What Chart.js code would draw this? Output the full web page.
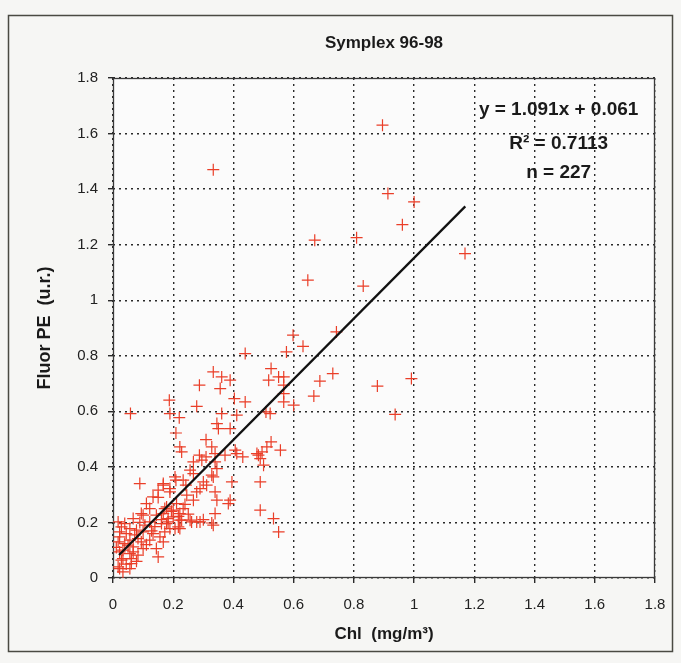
<!DOCTYPE html>
<html>
<head>
<meta charset="utf-8">
<script src="https://cdn.jsdelivr.net/npm/chart.js@4/dist/chart.umd.min.js"></script>
<style>
  html, body { margin: 0; padding: 0; background: #f6f6f4; }
  canvas { display: block; }
</style>
</head>
<body>
<canvas id="c" width="681" height="663"></canvas>
<script>
// ---------- data ----------
const chartTitle = 'Symplex 96-98';
const xAxisTitle = 'Chl  (mg/m³)';
const yAxisTitle = 'Fluor PE  (u.r.)';
const xTickLabels = ['0','0.2','0.4','0.6','0.8','1','1.2','1.4','1.6','1.8'];
const yTickLabels = ['0','0.2','0.4','0.6','0.8','1','1.2','1.4','1.6','1.8'];
const annotationLines = ['y = 1.091x + 0.061', 'R² = 0.7113', 'n = 227'];

// Chl (mg/m3) of each sample
const chlValues = [
 0.895,0.333,0.913,1.0,0.961,0.67,0.809,1.169,0.647,0.831,
 0.742,0.598,0.631,0.576,0.567,0.687,0.73,0.667,0.567,0.567,
 0.60,0.878,0.991,0.937,0.439,0.525,0.333,0.361,0.389,0.517,
 0.287,0.356,0.55,0.567,0.403,0.439,0.187,0.278,0.058,0.189,
 0.22,0.361,0.411,0.508,0.522,0.345,0.35,0.389,0.209,0.309,
 0.222,0.228,0.328,0.525,0.511,0.556,0.287,0.309,0.339,0.372,
 0.411,0.431,0.478,0.495,0.267,0.295,0.339,0.5,0.256,0.345,
 0.328,0.089,0.167,0.209,0.242,0.3,0.311,0.395,0.489,0.15,
 0.189,0.278,0.289,0.339,0.133,0.267,0.345,0.389,0.383,0.111,
 0.239,0.122,0.172,0.2,0.339,0.489,0.094,0.144,0.217,0.183,
 0.228,0.256,0.278,0.333,0.161,0.122,0.533,0.55,0.222,0.189,
 0.028,0.056,0.078,0.1,0.133,0.022,0.083,0.122,0.167,0.039,
 0.067,0.1,0.022,0.056,0.083,0.15,0.033,0.061,0.022,0.056,
 0.017,0.039,0.067,0.1,0.022,0.017,0.056,0.094,0.156,0.033,
 0.067,0.144,0.028,0.061,0.033,0.017,0.183,0.2,0.217,0.167,
 0.222,0.206,0.233,0.267,0.333,0.167,0.189,0.245,0.178,0.211,
 0.233,0.222,0.261,0.289,0.328,0.178,0.206,0.172,0.483,0.406,
 0.489,0.044,0.072,0.106,0.139,0.05,0.111,0.128,0.089,0.011,
 0.044,0.078,0.161,0.194,0.25,0.3,0.15
];
// Fluor PE (u.r.) of each sample
const peValues = [
 1.63,1.47,1.384,1.354,1.272,1.216,1.225,1.168,1.072,1.051,
 0.886,0.874,0.834,0.814,0.724,0.709,0.736,0.655,0.664,0.634,
 0.622,0.691,0.718,0.589,0.808,0.754,0.742,0.724,0.712,0.712,
 0.694,0.682,0.724,0.694,0.646,0.634,0.64,0.618,0.592,0.592,
 0.577,0.592,0.586,0.598,0.592,0.556,0.538,0.538,0.522,0.498,
 0.472,0.454,0.472,0.49,0.472,0.46,0.442,0.436,0.448,0.442,
 0.448,0.436,0.448,0.454,0.418,0.424,0.418,0.406,0.388,0.394,
 0.37,0.34,0.34,0.352,0.334,0.346,0.334,0.346,0.346,0.316,
 0.31,0.31,0.322,0.31,0.292,0.28,0.28,0.28,0.268,0.268,
 0.265,0.25,0.25,0.244,0.232,0.244,0.232,0.226,0.222,0.214,
 0.208,0.208,0.202,0.19,0.196,0.202,0.214,0.166,0.178,0.178,
 0.184,0.178,0.172,0.166,0.16,0.148,0.142,0.136,0.13,0.124,
 0.112,0.106,0.094,0.088,0.082,0.076,0.07,0.052,0.034,0.034,
 0.202,0.196,0.214,0.226,0.166,0.13,0.136,0.13,0.148,0.1,
 0.094,0.106,0.064,0.07,0.022,0.04,0.202,0.22,0.184,0.232,
 0.232,0.364,0.352,0.376,0.364,0.334,0.322,0.298,0.256,0.268,
 0.25,0.208,0.202,0.202,0.198,0.196,0.178,0.166,0.442,0.46,
 0.43,0.16,0.155,0.19,0.185,0.118,0.12,0.17,0.2,0.11,
 0.05,0.06,0.21,0.24,0.23,0.21,0.29
];
// regression line end points
const fitX = [0.02, 1.17];
const fitY = [0.083, 1.338];

// ---------- chart ----------
const FONT = "'Liberation Sans', Arial, sans-serif";
const points = chlValues.map((x, i) => ({ x: x, y: peValues[i] }));
const fitLine = fitX.map((x, i) => ({ x: x, y: fitY[i] }));

const framePlugin = {
  id: 'frame',
  beforeDraw(chart) {
    const ctx = chart.ctx;
    const a = chart.chartArea;
    ctx.save();
    ctx.fillStyle = '#f6f6f4';
    ctx.fillRect(0, 0, chart.width, chart.height);
    ctx.fillStyle = '#fbfbfb';
    ctx.fillRect(a.left, a.top, a.right - a.left, a.bottom - a.top);
    ctx.strokeStyle = '#4a4a42';
    ctx.lineWidth = 1.5;
    ctx.strokeRect(8.5, 15.5, 664, 636);
    ctx.restore();
  },
  beforeDatasetsDraw(chart) {
    const ctx = chart.ctx;
    const a = chart.chartArea;
    ctx.save();
    ctx.strokeStyle = '#3a3a3a';
    ctx.lineWidth = 1.3;
    ctx.strokeRect(a.left + 0.5, a.top + 0.5, a.right - a.left - 1, a.bottom - a.top - 1);
    ctx.restore();
  },
  afterDraw(chart) {
    const ctx = chart.ctx;
    const xs = chart.scales.x, ys = chart.scales.y;
    const cx = xs.getPixelForValue(1.48);
    const rows = [1.684, 1.565, 1.46];
    ctx.save();
    ctx.fillStyle = '#1a1a1a';
    ctx.font = 'bold 19px ' + FONT;
    ctx.textAlign = 'center';
    ctx.textBaseline = 'middle';
    annotationLines.forEach((t, i) => {
      ctx.fillText(t, cx, ys.getPixelForValue(rows[i]));
    });
    ctx.restore();
  }
};

new Chart(document.getElementById('c'), {
  type: 'scatter',
  data: {
    datasets: [
      {
        type: 'line',
        data: fitLine,
        borderColor: '#111111',
        borderWidth: 2.3,
        pointRadius: 0,
        fill: false,
        order: 0
      },
      {
        data: points,
        pointStyle: 'cross',
        pointRadius: 6,
        pointBorderWidth: 1.2,
        borderColor: 'rgb(234,62,40)',
        backgroundColor: 'rgb(234,62,40)',
        order: 1
      }
    ]
  },
  plugins: [framePlugin],
  options: {
    responsive: false,
    animation: false,
    layout: { padding: { left: 8, right: 26, top: 15, bottom: 8 } },
    plugins: {
      legend: { display: false },
      tooltip: { enabled: false },
      title: {
        display: true,
        text: chartTitle,
        fullSize: false,
        color: '#1a1a1a',
        font: { family: FONT, size: 17, weight: 'bold' },
        padding: { top: 18, bottom: 24.6 }
      }
    },
    scales: {
      x: {
        type: 'linear',
        min: 0, max: 1.8,
        afterFit(s) { s.height = 77; },
        afterBuildTicks(s) { s.ticks = xTickLabels.map(v => ({ value: parseFloat(v) })); },
        ticks: {
          stepSize: 0.2,
          padding: 13,
          maxRotation: 0,
          autoSkip: false,
          color: '#222',
          font: { family: FONT, size: 15 },
          callback: (v, i) => xTickLabels[i]
        },
        grid: { color: '#2a2a2a', lineWidth: 1.4, drawTicks: true, tickLength: 5 },
        border: { display: false, dash: [2, 4] },
        title: {
          display: true,
          text: xAxisTitle,
          color: '#1a1a1a',
          font: { family: FONT, size: 17, weight: 'bold' },
          padding: { top: 0, bottom: 10 }
        }
      },
      y: {
        type: 'linear',
        min: 0, max: 1.8,
        afterFit(s) { s.width = 105; },
        afterBuildTicks(s) { s.ticks = yTickLabels.map(v => ({ value: parseFloat(v) })); },
        ticks: {
          stepSize: 0.2,
          padding: 10,
          autoSkip: false,
          color: '#222',
          font: { family: FONT, size: 15 },
          callback: (v, i) => yTickLabels[i]
        },
        grid: { color: '#2a2a2a', lineWidth: 1.4, drawTicks: true, tickLength: 5 },
        border: { display: false, dash: [2, 4] },
        title: {
          display: true,
          text: yAxisTitle,
          color: '#1a1a1a',
          font: { family: FONT, size: 18, weight: 'bold' },
          padding: { top: 26, bottom: 0 }
        }
      }
    }
  }
});
</script>
</body>
</html>
